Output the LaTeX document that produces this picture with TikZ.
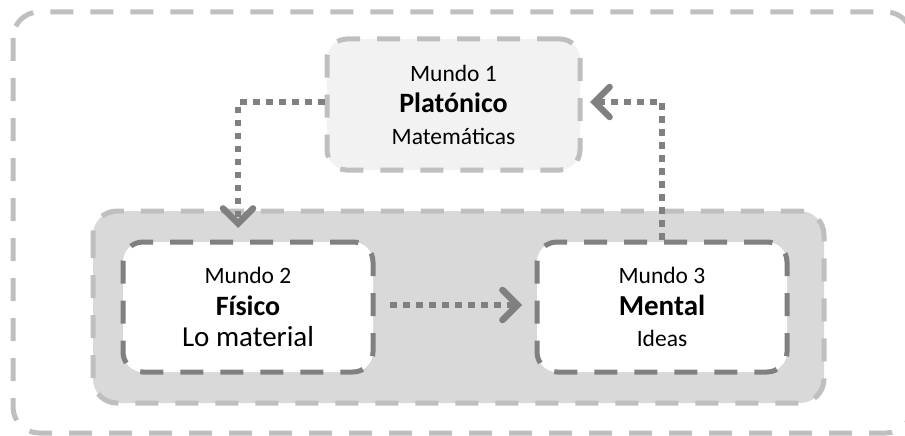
\documentclass[tikz,border=0pt]{standalone}
\usepackage{fontspec}
\setmainfont{Carlito}
\usetikzlibrary{arrows.meta,positioning}
\definecolor{lightline}{HTML}{BFBFBF}
\definecolor{darkline}{HTML}{808080}
\definecolor{platfill}{HTML}{F2F2F2}
\definecolor{groupfill}{HTML}{D9D9D9}
\tikzset{
  dashes/.style={line width=5pt, dash pattern=on 23pt off 17pt},
  frame/.style={dashes, draw=lightline, rounded corners=26pt},
  group/.style={dashes, draw=lightline, fill=groupfill, rounded corners=24pt},
  platbox/.style={dashes, draw=lightline, fill=platfill, rounded corners=20pt,
    minimum width=253pt, minimum height=131pt, align=center, inner sep=0pt},
  worldbox/.style={dashes, draw=darkline, fill=white, rounded corners=20pt,
    minimum width=250pt, minimum height=130pt, align=center, inner sep=0pt},
  flow/.style={draw=darkline, line width=6.5pt, dash pattern=on 6.5pt off 6.5pt,
    -{Straight Barb[length=15pt, width=30pt, line width=6.5pt, line cap=round]}},
  small/.style={font=\fontsize{23.5}{31.5}\selectfont},
}
\newcommand{\bigb}[1]{{\fontsize{28}{31.5}\selectfont\bfseries #1}}
\newcommand{\lrg}[1]{{\fontsize{29}{31.5}\selectfont #1}}
\begin{document}
\begin{tikzpicture}[x=1pt,y=-1pt]
  \useasboundingbox (0,0) rectangle (905,436);
  \begin{scope}
    \clip (0,0) rectangle (905,436);
    \draw[frame] (13,12) rectangle (912,433);
  \end{scope}
  \draw[group] (93,211) rectangle (824,403);
  \node[platbox, small] (plat) at (453.5,104.5) {Mundo 1\\ \bigb{Platónico}\\ Matemáticas};
  \node[worldbox, small] (fis) at (248,307) {Mundo 2\\ \bigb{Físico}\\ \lrg{Lo material}};
  \node[worldbox, small] (men) at (662,307) {Mundo 3\\ {\fontsize{29}{31.5}\selectfont\bfseries Mental}\\ {\fontsize{23.5}{31.5}\selectfont Ideas}};
  \coordinate (c1) at (238,102);
  \coordinate (t1) at (238,228);
  \coordinate (c2) at (662,102);
  \coordinate (t2) at (590,102);
  \coordinate (s3) at (390,305);
  \coordinate (t3) at (522,305);
  \draw[flow] (plat.west |- c1) -- (c1) -- (t1);
  \draw[flow] (men.north -| c2) -- (c2) -- (t2);
  \draw[flow] (s3) -- (t3);
\end{tikzpicture}
\end{document}
